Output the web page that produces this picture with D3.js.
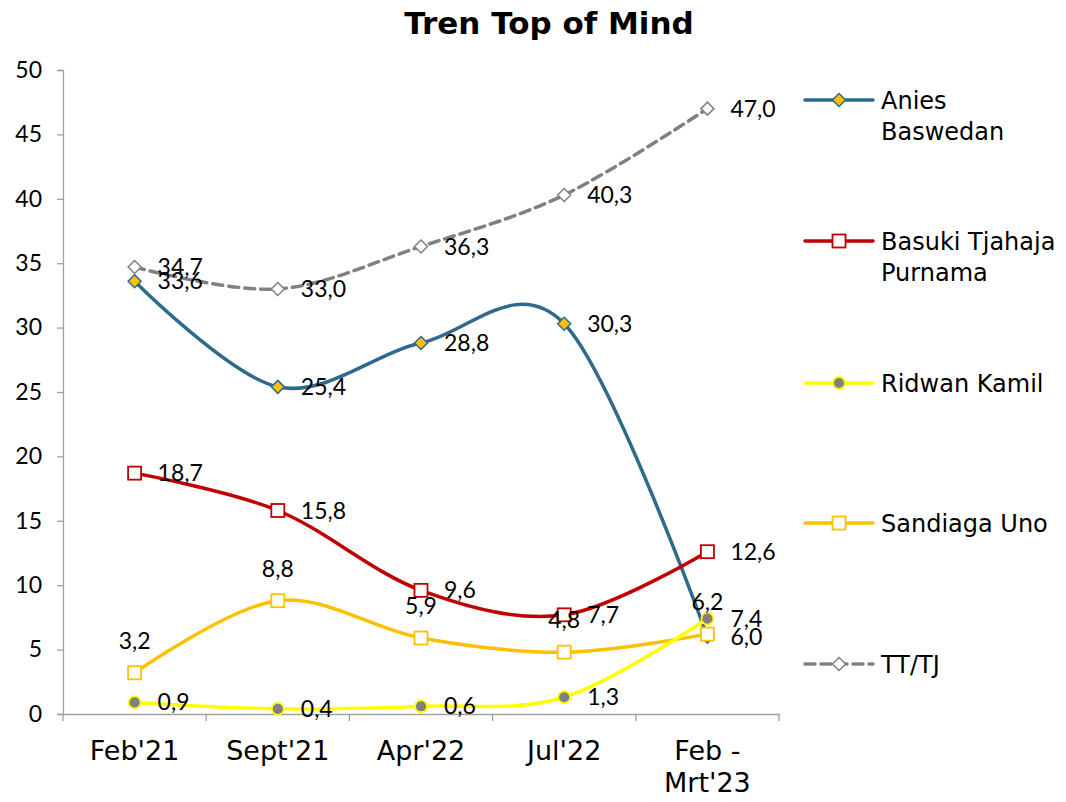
<!DOCTYPE html>
<html><head><meta charset="utf-8">
<script src="https://cdn.jsdelivr.net/npm/d3@7"></script>
<style>body{margin:0;background:#fff}text{font-family:Lato,"Open Sans",sans-serif}</style>
</head><body>
<svg id="c" width="1066" height="802"></svg>
<script>
const categories = ["Feb'21", "Sept'21", "Apr'22", "Jul'22", "Feb -\nMrt'23"];
const anies = [33.6, 25.4, 28.8, 30.3, 6.0];
const basuki = [18.7, 15.8, 9.6, 7.7, 12.6];
const ridwan = [0.9, 0.4, 0.6, 1.3, 7.4];
const sandiaga = [3.2, 8.8, 5.9, 4.8, 6.2];
const tttj = [34.7, 33.0, 36.3, 40.3, 47.0];
const yTicks = [0, 5, 10, 15, 20, 25, 30, 35, 40, 45, 50];

const series = [
  {name: ["Anies", "Baswedan"], values: anies, color: "#2E6A8B", width: 3.5, marker: "diamond", mFill: "#FFC000", mStroke: "#2E6A8B", label: "right"},
  {name: ["Basuki Tjahaja", "Purnama"], values: basuki, color: "#C00000", width: 3.5, marker: "square", mFill: "#fff", mStroke: "#C00000", label: "right"},
  {name: ["Ridwan Kamil"], values: ridwan, color: "#FFFF00", width: 3.5, marker: "circle", mFill: "#808080", mStroke: "#FFFF00", label: "right"},
  {name: ["Sandiaga Uno"], values: sandiaga, color: "#FFC000", width: 3.5, marker: "square", mFill: "#fff", mStroke: "#FFC000", label: "above"},
  {name: ["TT/TJ"], values: tttj, color: "#808080", width: 3.5, marker: "diamond", mFill: "#fff", mStroke: "#808080", label: "right", dash: "10,6"}
];
const drawOrder = [4, 0, 1, 3, 2];

const svg = d3.select("#c");
const x = d3.scaleBand().domain(categories).range([63, 779]);
const y = d3.scaleLinear().domain([0, 50]).range([714, 70]);
const cx = c => x(c) + x.bandwidth() / 2;

svg.append("text").attr("x", 549).attr("y", 34).attr("text-anchor", "middle")
  .style("font-size", "31px").style("font-weight", "bold").style("font-family", "'DejaVu Sans'")
  .text("Tren Top of Mind");

// Y axis
const yAxis = svg.append("g").attr("transform", "translate(63,0)")
  .call(d3.axisLeft(y).tickValues(yTicks).tickSize(6).tickPadding(15).tickFormat(d3.format("d")));
yAxis.select(".domain").attr("stroke", "#a0a0a0").attr("stroke-width", 1.3);
yAxis.selectAll(".tick line").attr("stroke", "#a0a0a0").attr("stroke-width", 1.3);
yAxis.selectAll(".tick text").style("font-size", "23px").attr("fill", "#000").attr("font-family", "Lato");

// X axis
const xAxis = svg.append("g").attr("transform", "translate(0,714)")
  .call(d3.axisBottom(x).tickSize(0).tickFormat(""));
xAxis.select(".domain").attr("stroke", "#a0a0a0").attr("stroke-width", 1.3);
const bounds = categories.map(c => x(c)).concat([x.range()[1]]);
xAxis.selectAll(".sep").data(bounds).join("line").attr("class", "sep")
  .attr("x1", d => d).attr("x2", d => d).attr("y1", 0).attr("y2", 7)
  .attr("stroke", "#a0a0a0").attr("stroke-width", 1.3);
categories.forEach(c => {
  const lines = c.split("\n");
  const t = svg.append("text").attr("x", cx(c)).attr("y", 760).attr("text-anchor", "middle")
    .style("font-size", "27px").style("font-family", "'DejaVu Sans'");
  lines.forEach((l, i) => t.append("tspan").attr("x", cx(c)).attr("dy", i === 0 ? 0 : 32).text(l));
});

const line = d3.line().x((d, i) => cx(categories[i])).y(d => y(d)).curve(d3.curveCardinal.tension(0));

function drawMarker(g, type, px, py, fill, stroke) {
  if (type === "diamond") {
    g.append("path").attr("d", `M${px},${py-6.5}L${px+6.5},${py}L${px},${py+6.5}L${px-6.5},${py}Z`)
      .attr("fill", fill).attr("stroke", stroke).attr("stroke-width", 1.5);
  } else if (type === "square") {
    g.append("rect").attr("x", px - 6.5).attr("y", py - 6.5).attr("width", 13).attr("height", 13)
      .attr("fill", fill).attr("stroke", stroke).attr("stroke-width", 1.8);
  } else {
    g.append("circle").attr("cx", px).attr("cy", py).attr("r", 6)
      .attr("fill", fill).attr("stroke", stroke).attr("stroke-width", 1.8);
  }
}

const fmt = v => v.toFixed(1).replace(".", ",");
drawOrder.forEach(si => {
  const s = series[si];
  const g = svg.append("g");
  g.append("path").attr("d", line(s.values)).attr("fill", "none")
    .attr("stroke", s.color).attr("stroke-width", s.width)
    .attr("stroke-dasharray", s.dash || null).attr("stroke-linecap", s.dash ? "round" : "butt");
  s.values.forEach((v, i) => drawMarker(g, s.marker, cx(categories[i]), y(v), s.mFill, s.mStroke));
});
// labels on top
drawOrder.forEach(si => {
  const s = series[si];
  s.values.forEach((v, i) => {
    const px = cx(categories[i]), py = y(v);
    const t = svg.append("text").style("font-size", "23px").attr("fill", "#000").text(fmt(v));
    if (s.label === "above") t.attr("x", px).attr("y", py - 32).attr("text-anchor", "middle").attr("dy", "0.35em");
    else t.attr("x", px + 23).attr("y", py).attr("dy", "0.35em");
  });
});

// Legend
const legY = [100, 241, 383, 523, 664];
series.forEach((s, i) => {
  const g = svg.append("g");
  const ly = legY[i];
  g.append("line").attr("x1", 805).attr("x2", 873).attr("y1", ly).attr("y2", ly)
    .attr("stroke", s.color).attr("stroke-width", s.width)
    .attr("stroke-dasharray", s.dash || null).attr("stroke-linecap", "round");
  drawMarker(g, s.marker, 839, ly, s.mFill, s.mStroke);
  s.name.forEach((n, j) => g.append("text").attr("x", 881).attr("y", ly + j * 31).attr("dy", "0.36em")
    .style("font-size", "24px").style("font-family", "'DejaVu Sans'").attr("fill", "#000").text(n));
});
</script>
</body></html>
